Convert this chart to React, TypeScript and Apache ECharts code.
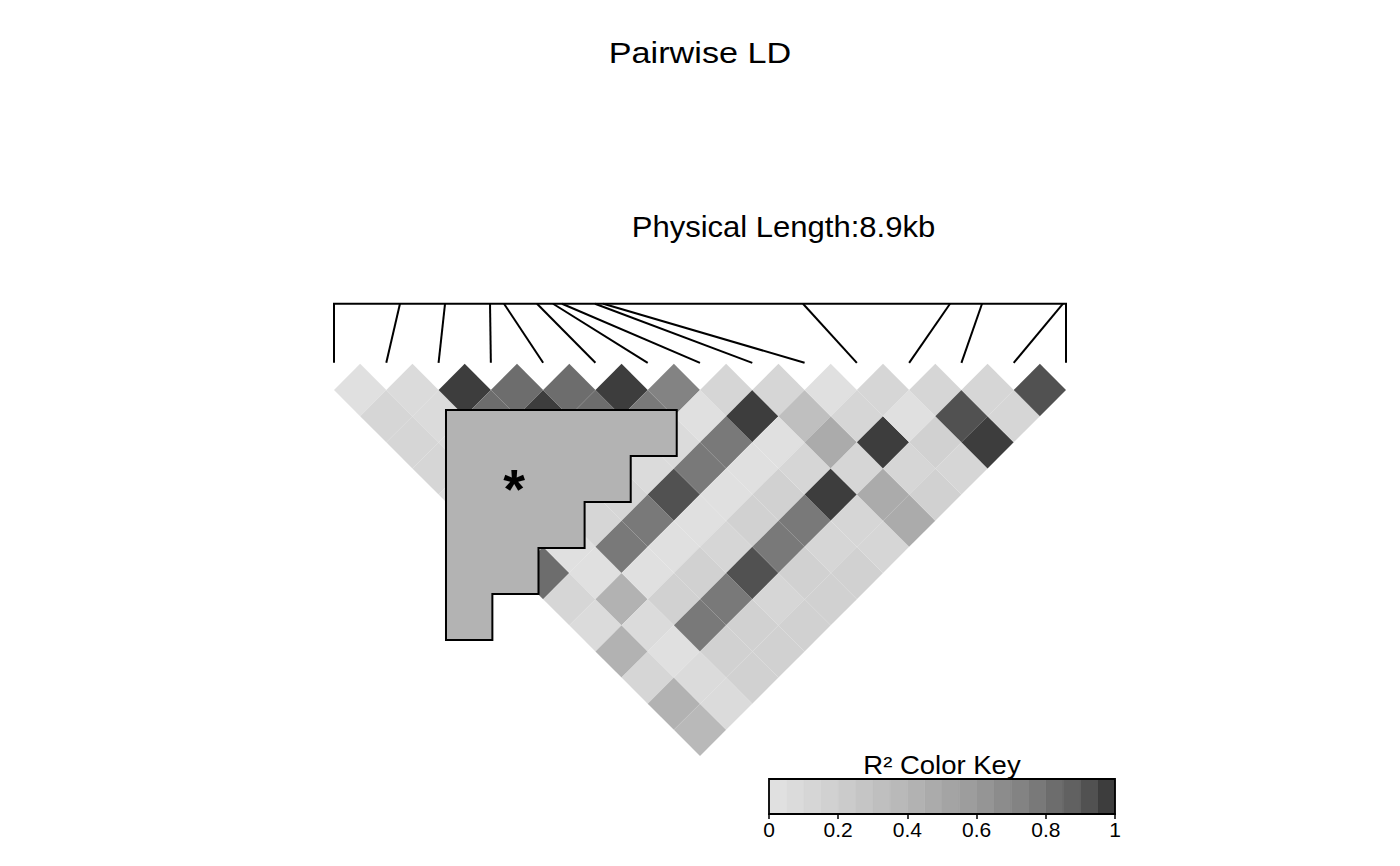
import React, { useEffect, useRef } from "react";
import * as echarts from "echarts";

// ---- data ----
const snpLabels = ["SNP1","SNP2","SNP3","SNP4","SNP5","SNP6","SNP7","SNP8","SNP9","SNP10","SNP11","SNP12","SNP13","SNP14","SNP15"];
// physical positions (bp, relative to first SNP); total 8.9 kb
const snpPositions = [0, 802, 1350, 1897, 2067, 2468, 2663, 2772, 3173, 3274, 5702, 7490, 7879, 8864, 8900];

// pairwise r^2, row i holds the values for SNP i against SNPs i+1 ... 15
const r2Snp1 = [0.03, 0.12, 0.12, 0.12, 0.08, 0.12, 0.08, 0.82, 0.12, 0.08, 0.42, 0.12, 0.42, 0.37];
const r2Snp2 = [0.08, 0.08, 0.08, 0.12, 0.12, 0.08, 0.03, 0.03, 0.42, 0.08, 0.03, 0.08, 0.08];
const r2Snp3 = [0.97, 0.82, 0.12, 0.08, 0.08, 0.12, 0.78, 0.03, 0.17, 0.78, 0.17, 0.17];
const r2Snp4 = [0.82, 0.97, 0.17, 0.12, 0.12, 0.78, 0.03, 0.17, 0.78, 0.17, 0.17];
const r2Snp5 = [0.82, 0.82, 0.08, 0.08, 0.92, 0.03, 0.12, 0.92, 0.12, 0.17];
const r2Snp6 = [0.97, 0.78, 0.08, 0.78, 0.03, 0.17, 0.78, 0.17, 0.17];
const r2Snp7 = [0.73, 0.03, 0.78, 0.03, 0.17, 0.78, 0.12, 0.17];
const r2Snp8 = [0.12, 0.97, 0.03, 0.12, 0.97, 0.12, 0.12];
const r2Snp9 = [0.12, 0.32, 0.47, 0.12, 0.47, 0.47];
const r2Snp10 = [0.03, 0.12, 0.97, 0.12, 0.17];
const r2Snp11 = [0.12, 0.03, 0.17, 0.12];
const r2Snp12 = [0.12, 0.92, 0.97];
const r2Snp13 = [0.12, 0.12];
const r2Snp14 = [0.92];
const r2Rows = [r2Snp1, r2Snp2, r2Snp3, r2Snp4, r2Snp5, r2Snp6, r2Snp7, r2Snp8, r2Snp9, r2Snp10, r2Snp11, r2Snp12, r2Snp13, r2Snp14];

// highlighted block outline (in heatmap axis units) and its mark
const highlightOutline = [
  [2.142, 0.383], [6.555, 0.383], [6.555, 1.263], [5.675, 1.263], [5.675, 2.142],
  [4.793, 2.142], [4.793, 3.022], [3.911, 3.022], [3.911, 3.902], [3.029, 3.902],
  [3.029, 4.782], [2.142, 4.782],
];
const highlightMarkAt = [3.443, 1.89];

// colour key
const keyBinCount = 20;
const keyTicks = [0, 0.2, 0.4, 0.6, 0.8, 1];

const titleText = "Pairwise LD";
const physicalText = "Physical Length:8.9kb";
const keyTitleText = "R\u00B2 Color Key";

// ---- styling helpers ----
const grayPalette = (() => {
  const g = 2.2, light = 0.88, dark = 0.24;
  const a = Math.pow(light, g), b = Math.pow(dark, g);
  const out: string[] = [];
  for (let k = 0; k < keyBinCount; k++) {
    const v = Math.pow(a - (k * (a - b)) / (keyBinCount - 1), 1 / g);
    const c = Math.round(v * 255);
    out.push(`rgb(${c},${c},${c})`);
  }
  return out;
})();

const Y_TOP = -1.65; // physical map line
const Y_BOTTOM = 7;
const Y_SNP = -0.52; // bottom of leader lines

export default function App() {
  const ref = useRef<HTMLDivElement>(null);
  useEffect(() => {
    if (!ref.current) return;
    const chart = echarts.init(ref.current, undefined, { renderer: "svg" });
    const n = snpPositions.length;
    const cellData: number[][] = [];
    r2Rows.forEach((row, i) => row.forEach((v, k) => cellData.push([i, i + 1 + k, v])));
    const minPos = snpPositions[0];
    const maxPos = snpPositions[n - 1];
    const posToX = (p: number) => ((p - minPos) / (maxPos - minPos)) * (n - 1);
    const keyBins = grayPalette.map((_, k) => [k / keyBinCount, (k + 1) / keyBinCount, k]);

    const unit = 732 / (n - 1);
    const option: any = {
      animation: false,
      grid: [
        { left: 334, top: 390 + Y_TOP * unit, width: 732, height: (Y_BOTTOM - Y_TOP) * unit },
        { left: 769, top: 779, width: 346, height: 35 },
      ],
      xAxis: [
        { gridIndex: 0, type: "value", min: 0, max: n - 1, show: false },
        {
          gridIndex: 1, type: "value", min: 0, max: 1, interval: 0.2,
          axisLine: { show: true, lineStyle: { color: "#000", width: 1.8 } },
          axisTick: { show: true, length: 5, lineStyle: { color: "#000", width: 1.5 } },
          axisLabel: { color: "#000", fontSize: 21, fontFamily: "Liberation Sans", margin: 5,
            customValues: keyTicks },
          splitLine: { show: false },
        },
      ],
      yAxis: [
        { gridIndex: 0, type: "value", min: Y_TOP, max: Y_BOTTOM, inverse: true, show: false },
        { gridIndex: 1, type: "value", min: 0, max: 1, show: false },
      ],
      visualMap: {
        type: "piecewise", show: false, dimension: 2, seriesIndex: 0,
        pieces: grayPalette.map((c, k) =>
          k === keyBinCount - 1
            ? { gte: k / keyBinCount, lte: 1, color: c }
            : { gte: k / keyBinCount, lt: (k + 1) / keyBinCount, color: c }),
      },
      series: [
        {
          type: "custom", name: "LD", xAxisIndex: 0, yAxisIndex: 0, z: 1, silent: true,
          data: cellData,
          renderItem: (_p: any, api: any) => {
            const i = api.value(0), j = api.value(1);
            const cx = (i + j) / 2, cy = (j - i - 1) / 2;
            const pts = [[cx, cy - 0.5], [cx + 0.5, cy], [cx, cy + 0.5], [cx - 0.5, cy]].map((p) => api.coord(p));
            return { type: "polygon", shape: { points: pts }, style: { fill: api.visual("color") } };
          },
        },
        {
          type: "custom", name: "leaders", xAxisIndex: 0, yAxisIndex: 0, z: 2, silent: true,
          data: snpPositions.map((p, idx) => [idx, p]),
          renderItem: (_p: any, api: any) => {
            const idx = api.value(0), pos = api.value(1);
            const a = api.coord([posToX(pos), Y_TOP]);
            const b = api.coord([idx, Y_SNP]);
            return { type: "line", shape: { x1: a[0], y1: a[1], x2: b[0], y2: b[1] },
              style: { stroke: "#000", lineWidth: 2 } };
          },
        },
        {
          type: "custom", name: "map", xAxisIndex: 0, yAxisIndex: 0, z: 2, silent: true,
          data: [[minPos, maxPos]],
          renderItem: (_p: any, api: any) => {
            const a = api.coord([posToX(api.value(0)), Y_TOP]);
            const b = api.coord([posToX(api.value(1)), Y_TOP]);
            return { type: "line", shape: { x1: a[0] - 1, y1: a[1], x2: b[0] + 1, y2: b[1] },
              style: { stroke: "#000", lineWidth: 2 } };
          },
        },
        {
          type: "custom", name: "highlight", xAxisIndex: 0, yAxisIndex: 0, z: 3, silent: true,
          data: [[0, 0]],
          renderItem: (_p: any, api: any) => {
            const pts = highlightOutline.map((p) => api.coord(p));
            const m = api.coord(highlightMarkAt);
            return {
              type: "group",
              children: [
                { type: "polygon", shape: { points: pts },
                  style: { fill: "#B3B3B3", stroke: "#000", lineWidth: 2, lineJoin: "miter" } },
                { type: "text", x: m[0], y: m[1],
                  style: { text: "*", fill: "#000", fontSize: 56, fontWeight: "bold",
                    fontFamily: "Liberation Sans", textAlign: "center", textVerticalAlign: "middle" } },
              ],
            };
          },
        },
        {
          type: "custom", name: "key", xAxisIndex: 1, yAxisIndex: 1, z: 1, silent: true,
          data: keyBins,
          renderItem: (_p: any, api: any) => {
            const a = api.coord([api.value(0), 1]);
            const b = api.coord([api.value(1), 0]);
            return { type: "rect", shape: { x: a[0], y: a[1], width: b[0] - a[0], height: b[1] - a[1] },
              style: { fill: grayPalette[api.value(2)], stroke: grayPalette[api.value(2)], lineWidth: 0.5 } };
          },
        },
        {
          type: "custom", name: "keyFrame", xAxisIndex: 1, yAxisIndex: 1, z: 4, silent: true,
          data: [[0, 1]],
          renderItem: (_p: any, api: any) => {
            const a = api.coord([api.value(0), 1]);
            const b = api.coord([api.value(1), 0]);
            return { type: "rect", shape: { x: a[0], y: a[1], width: b[0] - a[0], height: b[1] - a[1] },
              style: { fill: "none", stroke: "#000", lineWidth: 1.8 } };
          },
        },
      ],
      graphic: [
        { type: "text", x: 700, y: 53, scaleX: 1.14,
          style: { text: titleText, fill: "#000", fontSize: 30, fontFamily: "Liberation Sans",
            textAlign: "center", textVerticalAlign: "middle" } },
        { type: "text", x: 783.5, y: 227, scaleX: 1.07,
          style: { text: physicalText, fill: "#000", fontSize: 29, fontFamily: "Liberation Sans",
            textAlign: "center", textVerticalAlign: "middle" } },
        { type: "text", x: 942, y: 765, scaleX: 1.1,
          style: { text: keyTitleText, fill: "#000", fontSize: 25, fontFamily: "Liberation Sans",
            textAlign: "center", textVerticalAlign: "middle" } },
      ],
    };
    chart.setOption(option);
    return () => chart.dispose();
  }, []);
  return (
    <div
      ref={ref}
      style={{ position: "absolute", left: 0, top: 0, width: 1400, height: 866, background: "#fff" }}
    />
  );
}
